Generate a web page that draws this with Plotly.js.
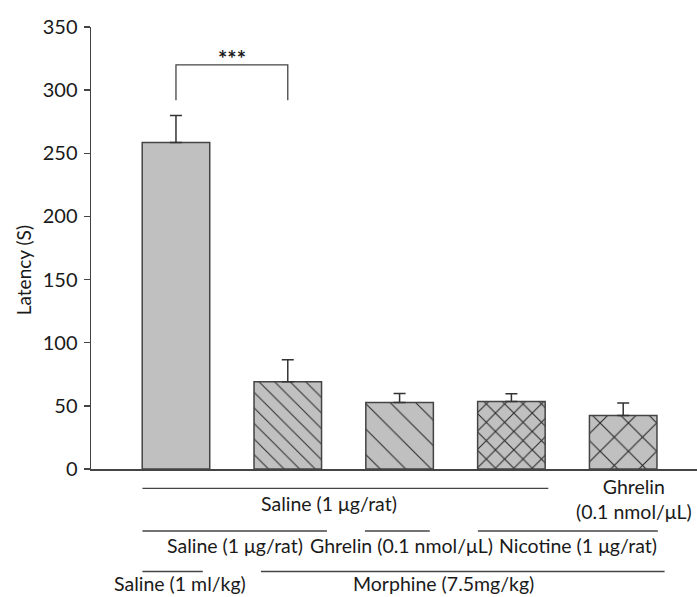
<!DOCTYPE html>
<html>
<head>
<meta charset="utf-8">
<script src="https://cdn.plot.ly/plotly-3.0.1.min.js"></script>
<style>html,body{margin:0;padding:0;background:#fff;}#chart{width:697px;height:597px;}</style>
</head>
<body>
<div id="chart"></div>
<script>
// ---- data ----
const categories = ['Saline/Saline/Saline', 'Morphine/Saline/Saline', 'Morphine/Ghrelin/Saline', 'Morphine/Nicotine/Saline', 'Morphine/Nicotine/Ghrelin'];
const latency = [258.5, 69, 52.6, 53.5, 42.3];
const semUp = [21.5, 17.5, 7.2, 6, 10];
const patternShapes = ['', '\\', '\\', 'x', 'x'];
const patternSizes = [8, 11, 18, 13, 20];
const patternSolidity = [0, 0.09, 0.06, 0.16, 0.11];

const yTickVals = [0, 50, 100, 150, 200, 250, 300, 350];
const yTitle = 'Latency (S)';

// significance bracket: between bar indices, bottom/top values
const sigFrom = 0, sigTo = 1, sigLow = 292, sigHigh = 320, sigText = '***';

// treatment group rows under the x axis (spans in category units)
const row1Lines = [[-0.3, 3.33]];
const row1Labels = [['Saline (1 μg/rat)', 1.37]];
const row1Extra = [['Ghrelin<br>(0.1 nmol/μL)', 4.10]];
const row2Lines = [[-0.3, 1.35], [1.69, 2.27], [2.70, 4.31]];
const row2Labels = [['Saline (1 μg/rat)', 0.53], ['Ghrelin (0.1 nmol/μL)', 2.02], ['Nicotine (1 μg/rat)', 3.60]];
const row3Lines = [[-0.3, 0.24], [0.76, 4.37]];
const row3Labels = [['Saline (1 ml/kg)', 0.04], ['Morphine (7.5mg/kg)', 2.39]];

// ---- layout helpers ----
const FONT = 'Lato, "Open Sans", sans-serif';
const ink = '#1a1a1a';
const lineCol = '#444';
const LABEL_SIZE = 19.5;

const shapes = [];
const annotations = [];

function addRow(lines, labels, lineY, textY, anchor) {
  lines.forEach(([a, b]) => shapes.push({
    type: 'line', xref: 'x', yref: 'paper', x0: a, x1: b, y0: lineY, y1: lineY,
    line: {color: lineCol, width: 1.3}
  }));
  labels.forEach(([t, x]) => annotations.push({
    text: t, xref: 'x', yref: 'paper', x: x, y: textY, xanchor: 'center', yanchor: anchor || 'middle',
    showarrow: false, font: {family: FONT, size: LABEL_SIZE, color: ink}
  }));
}
addRow(row1Lines, row1Labels, -0.0437, -0.077);
addRow([], row1Extra, 0, -0.068);
addRow(row2Lines, row2Labels, -0.1403, -0.174);
addRow(row3Lines, row3Labels, -0.2319, -0.2885, 'bottom');

// significance bracket
shapes.push({
  type: 'path', xref: 'x', yref: 'y',
  path: `M ${sigFrom},${sigLow} L ${sigFrom},${sigHigh} L ${sigTo},${sigHigh} L ${sigTo},${sigLow}`,
  line: {color: lineCol, width: 1.3}
});
annotations.push({
  text: '<b>' + sigText + '</b>', xref: 'x', yref: 'y', x: (sigFrom + sigTo) / 2, y: sigHigh,
  xanchor: 'center', yanchor: 'bottom', showarrow: false, yshift: -9,
  font: {family: FONT, size: 22, color: ink}
});

// y-axis title placed as rotated annotation
annotations.push({
  text: yTitle, xref: 'paper', yref: 'paper', x: -0.112, y: 0.45, textangle: -90,
  xanchor: 'center', yanchor: 'middle', showarrow: false,
  font: {family: FONT, size: 19, color: ink}
});

const trace = {
  type: 'bar',
  x: categories,
  y: latency,
  width: 0.604,
  marker: {
    color: '#c0c0c0',
    line: {color: '#444', width: 1.5},
    pattern: {shape: patternShapes, size: patternSizes, solidity: patternSolidity, fgcolor: '#2a2a2a', bgcolor: '#c0c0c0', fillmode: 'replace'}
  },
  error_y: {type: 'data', symmetric: false, array: semUp, arrayminus: latency.map(() => 0), color: '#333', thickness: 1.5, width: 6},
  hoverinfo: 'skip'
};

const layout = {
  width: 697, height: 597,
  margin: {l: 91, r: 0, t: 27, b: 128, pad: 0},
  paper_bgcolor: '#fff', plot_bgcolor: '#fff',
  showlegend: false,
  font: {family: FONT, color: ink},
  xaxis: {
    type: 'category', range: [-0.76, 4.66], showticklabels: false, ticks: '',
    showline: true, linecolor: lineCol, linewidth: 1.5, showgrid: false, zeroline: false, fixedrange: true
  },
  yaxis: {
    range: [0, 350], tickvals: yTickVals, ticktext: yTickVals.map(String),
    ticks: 'outside', ticklen: 6, tickwidth: 1.3, tickcolor: lineCol,
    showline: true, linecolor: lineCol, linewidth: 1.5, showgrid: false, zeroline: false,
    tickfont: {family: FONT, size: 20, color: ink}, ticklabelstandoff: 2
  },
  shapes: shapes,
  annotations: annotations
};

Plotly.newPlot('chart', [trace], layout, {staticPlot: true, displayModeBar: false});
</script>
</body>
</html>
